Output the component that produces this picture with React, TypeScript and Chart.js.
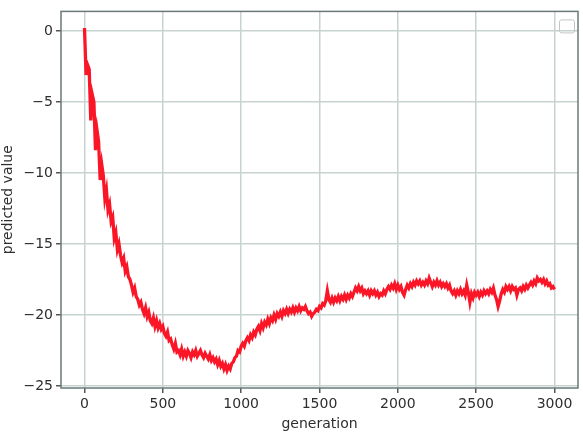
import React, { useEffect, useRef } from "react";
import { Chart, registerables } from "chart.js";

Chart.register(...registerables);

const genStep = 10;
// predicted value, every 10 generations from 0 to 3000 (one row = 100 generations)
const predictedValues = [
  0.2, -3.1, -2.4, -2.7, -6.3, -4.5, -5.0, -8.4, -7.0, -7.8,
  -10.5, -9.4, -10.2, -11.8, -11.2, -12.6, -12.2, -13.4, -13.1, -14.6,
  -14.2, -15.4, -15.0, -15.8, -16.3, -16.0, -16.9, -16.6, -17.3, -17.5,
  -17.9, -18.4, -18.1, -18.7, -18.9, -19.3, -19.1, -19.6, -19.9, -19.5,
  -20.1, -19.8, -20.4, -20.6, -20.2, -20.8, -20.4, -20.9, -20.6, -21.0,
  -20.8, -21.3, -21.5, -21.2, -21.8, -21.7, -22.1, -22.4, -22.0, -22.6,
  -22.5, -22.8, -22.4, -22.9, -22.6, -22.9, -22.5, -22.7, -23.0, -22.6,
  -22.8, -22.5, -22.9, -22.7, -22.5, -22.8, -23.0, -22.7, -22.9, -23.1,
  -22.8, -23.2, -23.0, -23.3, -23.1, -23.5, -23.2, -23.6, -23.4, -23.8,
  -23.5, -23.9, -23.6, -23.8, -23.4, -23.3, -23.0, -22.9, -22.5, -22.6,
  -22.2, -22.0, -22.2, -21.8, -21.6, -21.8, -21.4, -21.6, -21.2, -21.4,
  -21.0, -20.8, -21.1, -20.6, -20.9, -20.5, -20.7, -20.3, -20.6, -20.2,
  -20.4, -20.0, -20.3, -19.9, -20.1, -19.8, -20.1, -19.7, -19.9, -19.6,
  -19.9, -19.6, -19.8, -19.5, -19.8, -19.5, -19.7, -19.4, -19.7, -19.5,
  -19.6, -19.4, -19.7, -19.9, -19.8, -20.1, -19.9, -19.8, -19.6, -19.7,
  -19.4, -19.5, -19.2, -19.3, -19.0, -18.3, -18.9, -19.1, -18.8, -19.1,
  -18.8, -19.0, -18.7, -19.0, -18.7, -18.9, -18.6, -18.9, -18.6, -18.8,
  -18.5, -18.7, -18.4, -18.1, -18.3, -18.0, -18.3, -18.1, -18.5, -18.3,
  -18.5, -18.3, -18.6, -18.3, -18.5, -18.3, -18.6, -18.4, -18.7, -18.5,
  -18.6, -18.3, -18.5, -18.2, -18.0, -18.2, -17.9, -18.1, -17.8, -18.2,
  -17.9, -18.2, -18.0, -18.4, -18.6, -18.2, -17.9, -18.1, -17.8, -18.0,
  -17.7, -17.9, -17.6, -17.8, -17.6, -17.9, -17.7, -17.9, -17.6, -17.8,
  -17.4, -17.7, -18.0, -17.7, -17.9, -17.6, -17.9, -17.7, -18.0, -17.8,
  -18.0, -17.8, -18.1, -17.9, -18.3, -18.5, -18.3, -18.6, -18.3, -18.5,
  -18.2, -18.5, -18.3, -18.6, -17.9, -18.4, -19.1, -18.5, -18.8, -18.4,
  -18.6, -18.4, -18.7, -18.4, -18.6, -18.3, -18.5, -18.3, -18.5, -18.2,
  -18.4, -18.1, -18.6, -18.9, -19.4, -19.0, -18.5, -18.2, -18.4, -18.0,
  -18.2, -18.0, -18.3, -18.0, -18.2, -18.1, -18.6, -18.2, -18.1, -18.3,
  -18.0, -18.2, -17.9, -18.1, -17.9, -17.7, -17.9, -17.6, -17.8, -17.4,
  -17.6, -17.5, -17.7, -17.5, -17.8, -17.6, -17.9, -17.8, -18.1, -18.0,
  -18.2,
];
const generations = predictedValues.map((_, i) => i * genStep);

const xTicks = [0, 500, 1000, 1500, 2000, 2500, 3000];
const yTicks = [-25, -20, -15, -10, -5, 0];

const fmt = (v: number) => (v < 0 ? "\u2212" + Math.abs(v) : String(v));

const framePlugin = {
  id: "frame",
  afterDraw(chart: any) {
    const { ctx, chartArea } = chart;
    ctx.save();
    ctx.strokeStyle = "#6a7a78";
    ctx.lineWidth = 1.5;
    ctx.strokeRect(chartArea.left, chartArea.top, chartArea.right - chartArea.left, chartArea.bottom - chartArea.top);
    // empty legend box
    const w = 15, h = 13;
    const x = chartArea.right - 19, y = chartArea.top + 8;
    ctx.strokeStyle = "#c4c4c4";
    ctx.lineWidth = 1;
    ctx.beginPath();
    (ctx as any).roundRect(x + 0.5, y + 0.5, w, h, 2);
    ctx.stroke();
    ctx.restore();
  },
};

export default function App() {
  const ref = useRef<HTMLCanvasElement>(null);
  useEffect(() => {
    document.body.style.margin = "0";
    const font = { family: "DejaVu Sans", size: 14 };
    const chart = new Chart(ref.current!, {
      type: "line",
      data: {
        datasets: [
          {
            data: predictedValues.map((v, i) => ({ x: generations[i], y: v })),
            borderColor: "rgb(250,22,38)",
            borderWidth: 3.3,
            pointRadius: 0,
            tension: 0,
            fill: false,
          },
        ],
      },
      options: {
        animation: false,
        responsive: false,
        layout: { padding: { top: 2, right: 5, left: 0, bottom: 0 } },
        plugins: { legend: { display: false }, tooltip: { enabled: false } },
        scales: {
          x: {
            type: "linear",
            min: -150,
            max: 3150,
            afterBuildTicks: (s: any) => {
              s.ticks = xTicks.map((v) => ({ value: v }));
            },
            afterFit: (s: any) => {
              s.height = 45;
            },
            ticks: { font, color: "#2e2e2e", padding: 3, maxRotation: 0, callback: (v: any) => fmt(Number(v)) },
            grid: { color: "#c6d3d1", lineWidth: 1.5, tickColor: "#555", tickLength: 5 },
            border: { display: false },
            title: { display: true, text: "generation", font, color: "#2e2e2e", padding: 0 },
          },
          y: {
            type: "linear",
            min: -25.14,
            max: 1.37,
            afterBuildTicks: (s: any) => {
              s.ticks = yTicks.map((v) => ({ value: v }));
            },
            afterFit: (s: any) => {
              s.width = 61;
            },
            ticks: { font, color: "#2e2e2e", padding: 3, callback: (v: any) => fmt(Number(v)) },
            grid: { color: "#c6d3d1", lineWidth: 1.5, tickColor: "#555", tickLength: 5 },
            border: { display: false },
            title: { display: true, text: "predicted value", font, color: "#2e2e2e", padding: 0 },
          },
        },
      },
      plugins: [framePlugin],
    } as any);
    return () => chart.destroy();
  }, []);
  return (
    <div style={{ width: 583, height: 433 }}>
      <canvas ref={ref} width={583} height={433} />
    </div>
  );
}
